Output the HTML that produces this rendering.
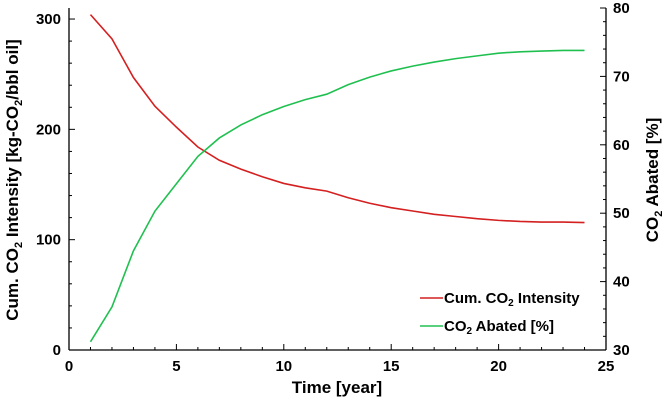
<!DOCTYPE html>
<html><head><meta charset="utf-8"><style>
body{margin:0;background:#fff}
svg{display:block;font-family:"Liberation Sans",sans-serif;font-weight:bold}
</style></head><body>
<svg id="c" width="669" height="402"></svg>
<script>
const years=[1,2,3,4,5,6,7,8,9,10,11,12,13,14,15,16,17,18,19,20,21,22,23,24];
const intensity=[304,282,247,221,202,184,172,164,157,151,147,144,138,133,129,126,123,121,119,117.5,116.5,116,116,115.5];
const abated=[31.2,36.3,44.5,50.3,54.3,58.3,61,62.9,64.4,65.6,66.6,67.4,68.8,69.9,70.8,71.5,72.1,72.6,73.0,73.4,73.6,73.7,73.8,73.8];
const xTicks=[0,5,10,15,20,25];
const yLeftTicks=[0,100,200,300];
const yRightTicks=[30,40,50,60,70,80];
const L=69,R=606,T=8,B=350;
const sx=v=>L+(v/25)*(R-L);
const syL=v=>B-(v/310)*(B-T);
const syR=v=>B-((v-30)/50)*(B-T);
const svg=document.getElementById('c');
const NS='http://www.w3.org/2000/svg';
function mk(t,a,p){const e=document.createElementNS(NS,t);for(const k in a)e.setAttribute(k,a[k]);(p||svg).appendChild(e);return e;}
let e;
e=mk('line',{x1:L,y1:B,x2:R,y2:B,stroke:'#000','stroke-width':1.3});


e=mk('line',{x1:L,y1:T,x2:L,y2:B,stroke:'#000','stroke-width':1.3});


e=mk('line',{x1:R,y1:T,x2:R,y2:B,stroke:'#000','stroke-width':1.3});


for(let v=0;v<=25;v++){mk('line',{x1:sx(v),y1:B,x2:sx(v),y2:B-(v%5?3:6),stroke:'#000'});}
for(let v=0;v<=300;v+=20){mk('line',{x1:L,y1:syL(v),x2:L+(v%100?3:6),y2:syL(v),stroke:'#000'});}
for(let v=30;v<=80;v+=2){mk('line',{x1:R,y1:syR(v),x2:R-(v%10?3:6),y2:syR(v),stroke:'#000'});}
xTicks.forEach(v=>{e=mk('text',{x:sx(v),y:B+21,'text-anchor':'middle','font-size':15});e.textContent=v;

});
yLeftTicks.forEach(v=>{e=mk('text',{x:L-8,y:syL(v)+5,'text-anchor':'end','font-size':15});e.textContent=v;

});
yRightTicks.forEach(v=>{e=mk('text',{x:R+7,y:syR(v)+5,'font-size':15});e.textContent=v;

});
function path(vals,sy,col,name){e=mk('polyline',{points:years.map((x,i)=>sx(x)+','+sy(vals[i])).join(' '),fill:'none',stroke:col,'stroke-width':1.6});

}
path(intensity,syL,'#d42020','intensity-line');
path(abated,syR,'#20c050','abated-line');
</script>
<svg style="position:absolute;left:0;top:0" width="669" height="402">
<g font-family="Liberation Sans,sans-serif" font-weight="bold">
<text x="337" y="393" text-anchor="middle" font-size="17">Time [year]</text>
<text transform="translate(18,180) rotate(-90)" text-anchor="middle" font-size="17">Cum. CO<tspan font-size="11" dy="4">2</tspan><tspan dy="-4"> Intensity [kg-CO</tspan><tspan font-size="11" dy="4">2</tspan><tspan dy="-4">/bbl oil]</tspan></text>
<text transform="translate(658,180) rotate(-90)" text-anchor="middle" font-size="17">CO<tspan font-size="11" dy="4">2</tspan><tspan dy="-4"> Abated [%]</tspan></text>
<g>
<line x1="420" y1="298" x2="443" y2="298" stroke="#d42020" stroke-width="1.6"/>
<text x="444" y="303" font-size="15">Cum. CO<tspan font-size="10" dy="3">2</tspan><tspan dy="-3"> Intensity</tspan></text>
<line x1="420" y1="326" x2="443" y2="326" stroke="#20c050" stroke-width="1.6"/>
<text x="444" y="331" font-size="15">CO<tspan font-size="10" dy="3">2</tspan><tspan dy="-3"> Abated [%]</tspan></text>
</g></g></svg>
</body></html>
